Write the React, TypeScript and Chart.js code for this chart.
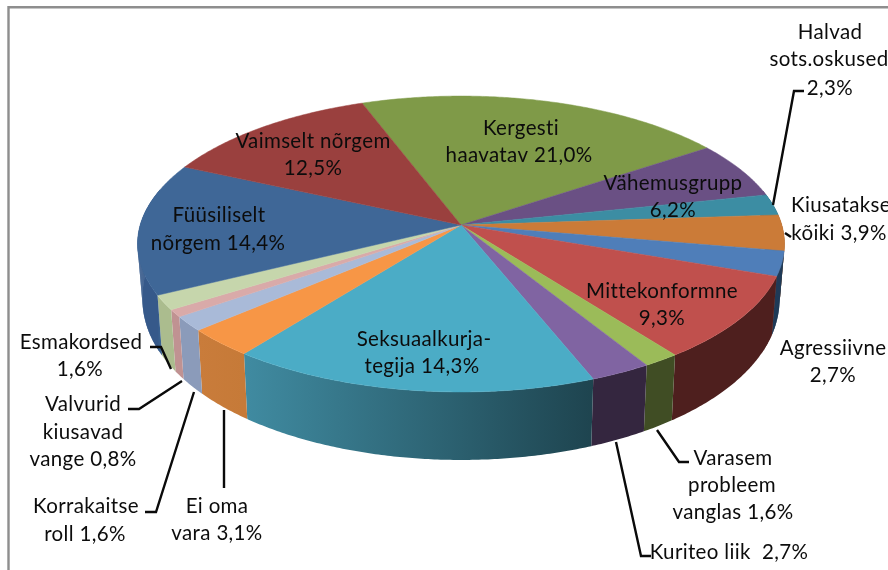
import React, { useEffect, useRef } from "react";
import { Chart, registerables } from "chart.js";

Chart.register(...registerables);

const categories = [
  "Kergesti haavatav", "Vähemusgrupp", "Halvad sots.oskused", "Kiusatakse kõiki", "Agressiivne",
  "Mittekonformne", "Varasem probleem vanglas", "Kuriteo liik", "Seksuaalkurjategija", "Ei oma vara",
  "Korrakaitse roll", "Valvurid kiusavad vange", "Esmakordsed", "Füüsiliselt nõrgem", "Vaimselt nõrgem",
];
// Slice sizes as drawn (the Seksuaalkurjategija slice spans about 16.3% though its label prints 14,3%).
const sliceValues = [21.0, 6.2, 2.3, 3.9, 2.7, 9.3, 1.6, 2.7, 16.3, 3.1, 1.6, 0.8, 1.6, 14.4, 12.5];

const topColors = [
  "#7F9A48", "#6A5084", "#3C8DA3", "#CB7B38", "#4F7EB9", "#C0504D", "#9BBB59", "#8064A2",
  "#4BACC6", "#F79646", "#A9BAD8", "#D9AAA9", "#C6D6AC", "#3F6797", "#9A403E",
];
const wallStart = [
  "#5D7134", "#4D3A60", "#2B6677", "#94592A", "#1F3A57", "#4E1F1E", "#404D24", "#34263F",
  "#1E444F", "#C67A38", "#8B9BBA", "#C09292", "#ABBC8E", "#36598A", "#6F2E2C",
];
const wallEnd = [
  "#5D7134", "#4D3A60", "#2B6677", "#94592A", "#1F3A57", "#4E1F1E", "#404D24", "#34263F",
  "#408BA1", "#C97C3B", "#8B9BBA", "#C09292", "#ABBC8E", "#39618F", "#6F2E2C",
];

const labelLines: [string, number, number][] = [
  ["Kergesti", 521, 127], ["haavatav 21,0%", 519, 154],
  ["Vaimselt nõrgem", 313, 140], ["12,5%", 313, 167],
  ["Füüsiliselt", 219, 214], ["nõrgem 14,4%", 218, 242],
  ["Vähemusgrupp", 673, 182], ["6,2%", 673, 209],
  ["Halvad", 830, 31], ["sots.oskused", 829, 58], ["2,3%", 830, 87],
  ["Kiusatakse", 841, 204], ["kõiki 3,9%", 839, 232],
  ["Mittekonformne", 662, 290], ["9,3%", 662, 317],
  ["Agressiivne", 833, 347], ["2,7%", 833, 374],
  ["Seksuaalkurja-", 424, 338], ["tegija 14,3%", 422, 365],
  ["Varasem", 733, 457], ["probleem", 732, 484], ["vanglas 1,6%", 733, 511],
  ["Kuriteo liik  2,7%", 729, 551],
  ["Esmakordsed", 81, 341], ["1,6%", 80, 368],
  ["Valvurid", 83, 403], ["kiusavad", 83, 431], ["vange 0,8%", 83, 458],
  ["Korrakaitse", 86, 505], ["roll 1,6%", 85, 533],
  ["Ei oma", 217, 505], ["vara 3,1%", 217, 532],
];

const leaderLines: [number, number][][] = [
  [[773, 205], [794, 91], [804, 91]],
  [[785, 233], [791, 237]],
  [[150, 347], [161, 347], [171, 369]],
  [[128, 409], [139, 409], [182, 381]],
  [[145, 512], [156, 512], [194, 392]],
  [[224, 410], [224, 488]],
  [[657, 430], [679, 462], [689, 462]],
  [[616, 442], [641, 556], [651, 556]],
];

const CX = 461, CY = 225, RX = 320.8, RY = 145.5, K = 0.1285;

function topPoint(a: number, r = 1): [number, number] {
  const u = Math.cos(a) * r, v = Math.sin(a) * r;
  const w = 1 - K * v;
  return [CX + (RX * u) / w, CY + (RY * v) / w];
}
function bottomPoint(a: number): [number, number] {
  const [x, y] = topPoint(a);
  const v = Math.max(0, Math.sin(a));
  return [CX + (x - CX) * 0.985, y + 50 + 18 * Math.pow(v, 0.7)];
}

const pie3d = {
  id: "pie3d",
  beforeDatasetsDraw(chart: any) {
    const ctx: CanvasRenderingContext2D = chart.ctx;
    const arcs = chart.getDatasetMeta(0).data;
    const step = Math.PI / 360;
    ctx.save();
    ctx.strokeStyle = "#8E8E8E";
    ctx.lineWidth = 2.4;
    ctx.beginPath();
    ctx.moveTo(8.5, 575);
    ctx.lineTo(8.5, 7.2);
    ctx.lineTo(893, 7.2);
    ctx.stroke();
    arcs.forEach((arc: any, i: number) => {
      const s = arc.startAngle, e = arc.endAngle;
      const pts: number[] = [];
      for (let a = s; a < e; a += step) pts.push(a);
      pts.push(e);
      const vis = pts.filter((a) => Math.sin(a) > -0.25);
      if (vis.length < 2) return;
      const p0 = topPoint(vis[0]);
      const p1 = topPoint(vis[vis.length - 1]);
      const g = ctx.createLinearGradient(p0[0], 0, p1[0], 0);
      g.addColorStop(0, wallStart[i]);
      g.addColorStop(1, wallEnd[i]);
      ctx.fillStyle = g;
      // main band of the wall, as one outline so that no seams show
      ctx.beginPath();
      vis.forEach((a, n) => {
        const p = topPoint(a);
        if (n === 0) ctx.moveTo(p[0], p[1]);
        else ctx.lineTo(p[0], p[1]);
      });
      [...vis].reverse().forEach((a) => {
        const p = bottomPoint(a);
        ctx.lineTo(p[0], p[1]);
      });
      ctx.closePath();
      ctx.fill();
      // near the far left and right the band folds: fill it strip by strip
      for (let n = 0; n + 1 < vis.length; n++) {
        if (Math.abs(Math.cos(vis[n])) < 0.9) continue;
        const t0 = topPoint(vis[n]), t1 = topPoint(vis[n + 1]);
        const b0 = bottomPoint(vis[n]), b1 = bottomPoint(vis[n + 1]);
        ctx.beginPath();
        ctx.moveTo(t0[0], t0[1]);
        ctx.lineTo(t1[0], t1[1]);
        ctx.lineTo(b1[0], b1[1]);
        ctx.lineTo(b0[0], b0[1]);
        ctx.closePath();
        ctx.fill();
      }
    });
    arcs.forEach((arc: any, i: number) => {
      ctx.fillStyle = topColors[i];
      ctx.strokeStyle = topColors[i];
      ctx.lineWidth = 0.5;
      ctx.beginPath();
      ctx.moveTo(CX, CY);
      for (let a = arc.startAngle; a < arc.endAngle; a += step) {
        const p = topPoint(a);
        ctx.lineTo(p[0], p[1]);
      }
      const pe = topPoint(arc.endAngle);
      ctx.lineTo(pe[0], pe[1]);
      ctx.closePath();
      ctx.fill();
      ctx.stroke();
    });
    ctx.restore();
    return false;
  },
  afterDraw(chart: any) {
    const ctx: any = chart.ctx;
    ctx.save();
    ctx.filter = "blur(0.4px)";
    ctx.strokeStyle = "#0A0A0A";
    ctx.lineWidth = 2.4;
    ctx.lineJoin = "miter";
    leaderLines.forEach((line) => {
      ctx.beginPath();
      line.forEach((p, n) => (n === 0 ? ctx.moveTo(p[0], p[1]) : ctx.lineTo(p[0], p[1])));
      ctx.stroke();
    });
    ctx.fillStyle = "#0C0C0C";
    ctx.font = "20.5px Lato, 'Open Sans', sans-serif";
    ctx.letterSpacing = "0.35px";
    ctx.textAlign = "center";
    ctx.textBaseline = "middle";
    labelLines.forEach(([t, x, y]) => ctx.fillText(t, x, y + 1));
    ctx.restore();
  },
};

export default function App() {
  const ref = useRef<HTMLCanvasElement>(null);
  useEffect(() => {
    const chart = new Chart(ref.current!, {
      type: "pie",
      data: {
        labels: categories,
        datasets: [{ data: sliceValues, backgroundColor: topColors, borderWidth: 0 }],
      },
      options: {
        responsive: false,
        animation: false,
        rotation: -20.2,
        plugins: { legend: { display: false }, tooltip: { enabled: false } },
      },
      plugins: [pie3d],
    } as any);
    return () => chart.destroy();
  }, []);
  return (
    <canvas
      ref={ref}
      width={888}
      height={570}
      style={{ position: "fixed", left: 0, top: 0, width: 888, height: 570, background: "#fff" }}
    />
  );
}
